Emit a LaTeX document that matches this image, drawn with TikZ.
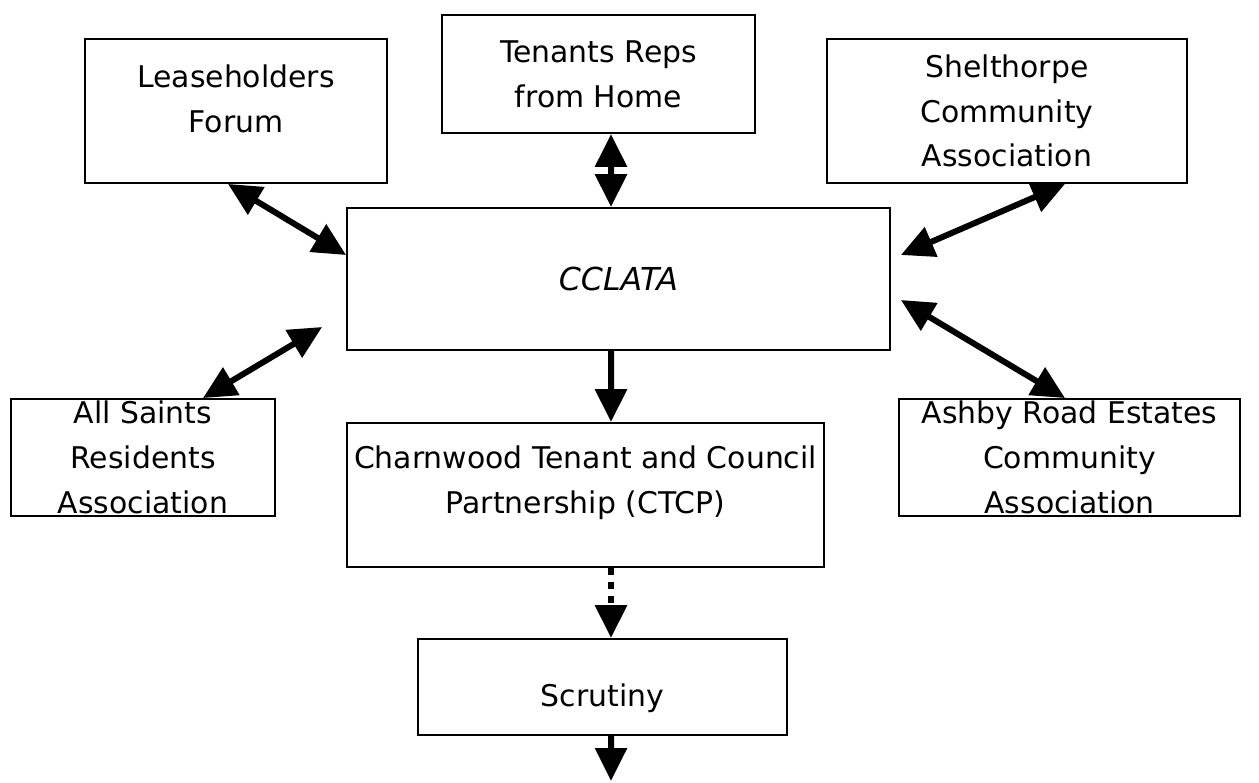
\documentclass[tikz,border=0pt]{standalone}
\usepackage{fontspec}
\setmainfont{DejaVu Sans}
\usetikzlibrary{positioning, calc, arrows.meta}

\begin{document}
\begin{tikzpicture}[
        x=0.02cm, y=-0.02cm,
        box/.style={draw, line width=1.1pt, inner sep=0pt, align=center,
            font=\fontsize{17}{25.5}\selectfont},
        link/.style={line width=0.12cm, >={Triangle[length=0.66cm, width=0.62cm]}}
    ]
    \useasboundingbox (0,0) rectangle (1259,782);

    % top row
    \node[box, minimum width=6.04cm, minimum height=2.88cm, text depth=0.5cm] (lease) at (236,111) {Leaseholders\\Forum};
    \node[box, minimum width=6.26cm, minimum height=2.36cm] (tenants) at (598.5,74) {Tenants Reps\\from Home};
    \node[box, minimum width=7.2cm, minimum height=2.88cm] (shel) at (1007,111) {Shelthorpe\\Community\\Association};

    % middle
    \node[box, minimum width=10.86cm, minimum height=2.84cm, font=\fontsize{18}{25.5}\selectfont\itshape] (cclata) at (618.5,279) {CCLATA};
    \node[box, minimum width=5.28cm, minimum height=2.34cm] (saints) at (143,457.5) {All Saints\\Residents\\Association};
    \node[box, minimum width=6.82cm, minimum height=2.34cm] (ashby) at (1069.5,457.5) {Ashby Road Estates\\Community\\Association};
    \node[box, minimum width=9.54cm, minimum height=2.88cm, text depth=0.6cm] (ctcp) at (585.5,495) {Charnwood Tenant and Council\\Partnership (CTCP)};

    % bottom
    \node[box, minimum width=7.38cm, minimum height=1.92cm, text height=0.92cm] (scrutiny) at (602.5,687) {Scrutiny};
    \coordinate (out) at (611,781);

    % links
    \draw[link, <->] ($(lease.south)+(-8,0)$) -- ($(cclata.west)+(0,-24)$);
    \draw[link, <->] ($(tenants.south)+(12.5,0)$) -- ($(cclata.north)+(-7.5,0)$);
    \draw[link, <->] ($(shel.south)+(58,0)$) -- ($(cclata.east)+(10,-24)$);
    \draw[link, <->] ($(saints.north)+(60,0)$) -- ($(cclata.west)+(-24,48)$);
    \draw[link, <->] ($(ashby.north)+(-4.5,0)$) -- ($(cclata.east)+(10,21)$);
    \draw[link, ->] ($(cclata.south)+(-7.5,0)$) -- ($(ctcp.north)+(25.5,0)$);
    \draw[link, ->, dash pattern=on 0.14cm off 0.14cm] ($(ctcp.south)+(25.5,0)$) -- ($(scrutiny.north)+(8.5,0)$);
    \draw[link, ->] ($(scrutiny.south)+(8.5,0)$) -- (out);
\end{tikzpicture}
\end{document}
